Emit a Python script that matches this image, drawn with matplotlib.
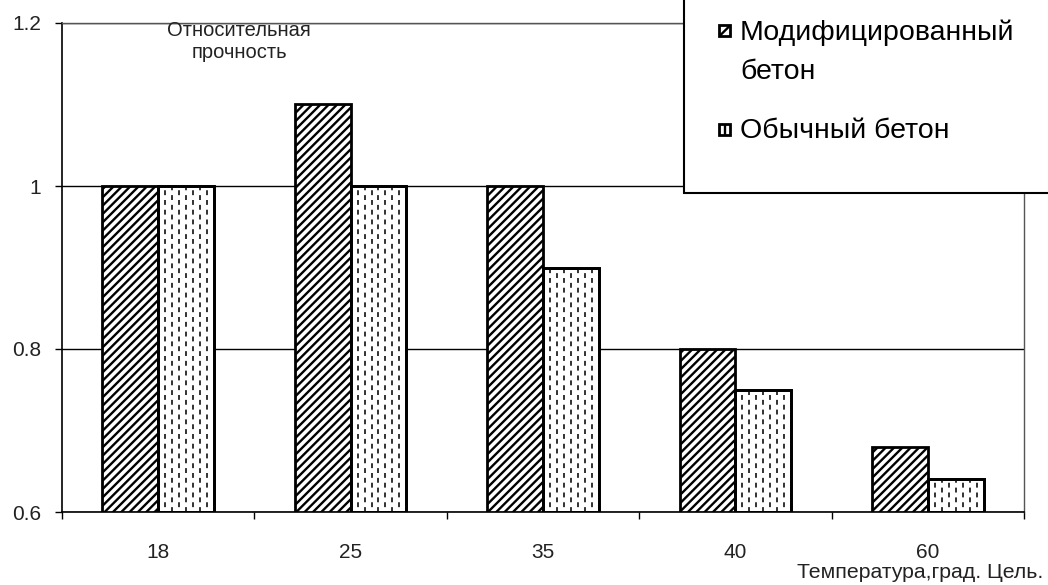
import matplotlib
matplotlib.use("Agg")
import matplotlib.pyplot as plt
from matplotlib.patches import Rectangle
from matplotlib.lines import Line2D
import numpy as np

categories = ["18", "25", "35", "40", "60"]
modified = [1.0, 1.1, 1.0, 0.8, 0.68]
ordinary = [1.0, 1.0, 0.9, 0.75, 0.64]
series_labels = ["Модифицированный\nбетон", "Обычный бетон"]
yticks = [0.6, 0.8, 1.0, 1.2]
ytick_labels = ["0.6", "0.8", "1", "1.2"]

plt.rcParams['font.family'] = ['Liberation Sans', 'DejaVu Sans']
plt.rcParams['hatch.linewidth'] = 1.7

fig = plt.figure(figsize=(10.48, 5.85), dpi=100)
ax = fig.add_axes([62/1048, 1-512/585, (1024-62)/1048, (512-23)/585])

x = np.arange(len(categories))
w = 0.29
b1 = ax.bar(x - w/2, np.array(modified) - 0.6, w, bottom=0.6, color='white',
            edgecolor='black', linewidth=2, hatch='////', zorder=3)
b2 = ax.bar(x + w/2, np.array(ordinary) - 0.6, w, bottom=0.6, color='white',
            edgecolor='black', linewidth=2, zorder=3)

# dashed vertical pattern inside the "ordinary" bars
for bar in b2:
    x0 = bar.get_x()
    bw = bar.get_width()
    y0 = bar.get_y()
    h = bar.get_height()
    n = 8
    for i in range(1, n):
        xx = x0 + bw * i / n
        ln = Line2D([xx, xx], [y0, y0 + h], color='#222222', lw=1.3,
                    linestyle=(2.7 * (i % 2), (2.7, 2.7)), zorder=3.5)
        ax.add_line(ln)
        ln.set_clip_path(bar)
    ax.add_patch(Rectangle((x0, y0), bw, h, fill=False, edgecolor='black',
                           linewidth=2, zorder=4))

ax.set_ylim(0.6, 1.2)
ax.set_xlim(-0.5, len(categories) - 0.5)
ax.set_yticks(yticks)
ax.set_yticklabels(ytick_labels)
ax.set_xticks(np.arange(len(categories) + 1) - 0.5)
ax.set_xticklabels([])
ax.set_xticks(x, minor=True)
ax.set_xticklabels(categories, minor=True)
ax.tick_params(axis='x', which='minor', length=0, pad=22, labelsize=15, labelcolor='#222222')
ax.tick_params(axis='x', which='major', length=5, width=1, direction='out')
ax.tick_params(axis='y', length=5, width=1, direction='out', labelsize=15, pad=10,
               labelcolor='#222222')
ax.yaxis.grid(True, color='black', linewidth=1, zorder=0)
ax.set_axisbelow(True)
for s in ['left', 'bottom']:
    ax.spines[s].set_linewidth(1.2)
    ax.spines[s].set_color('black')
for s in ['top', 'right']:
    ax.spines[s].set_linewidth(1)
    ax.spines[s].set_color('#555555')

fig.text(239/1048, 1-42/585, "Относительная\nпрочность", ha='center', va='center',
         fontsize=14.5, linespacing=1.2, color='#222222')
fig.text(1043/1048, 1-573/585, "Температура,град. Цель.", ha='right', va='center',
         fontsize=15.3, color='#222222')

# legend box
fig.patches.append(Rectangle((684/1048, 1-193/585), 1 - 684/1048 + 0.01, 193/585 + 0.01,
                             transform=fig.transFigure, facecolor='white',
                             edgecolor='black', linewidth=1.5, zorder=10))
# legend handles
hw, hh = 11/1048, 11/585
fig.patches.append(Rectangle((719/1048, 1-36/585), hw, hh, transform=fig.transFigure,
                             facecolor='white', edgecolor='black', linewidth=2,
                             hatch='///', zorder=11))
fig.patches.append(Rectangle((719/1048, 1-135/585), hw, hh, transform=fig.transFigure,
                             facecolor='white', edgecolor='black', linewidth=2,
                             hatch='|', zorder=11))
fig.text(740/1048, 1-20/585, series_labels[0], ha='left', va='top', fontsize=20.5,
         linespacing=1.62, zorder=12)
fig.text(740/1048, 1-131/585, series_labels[1], ha='left', va='center', fontsize=20.5,
         zorder=12)

fig.savefig("out.png", dpi=100)
